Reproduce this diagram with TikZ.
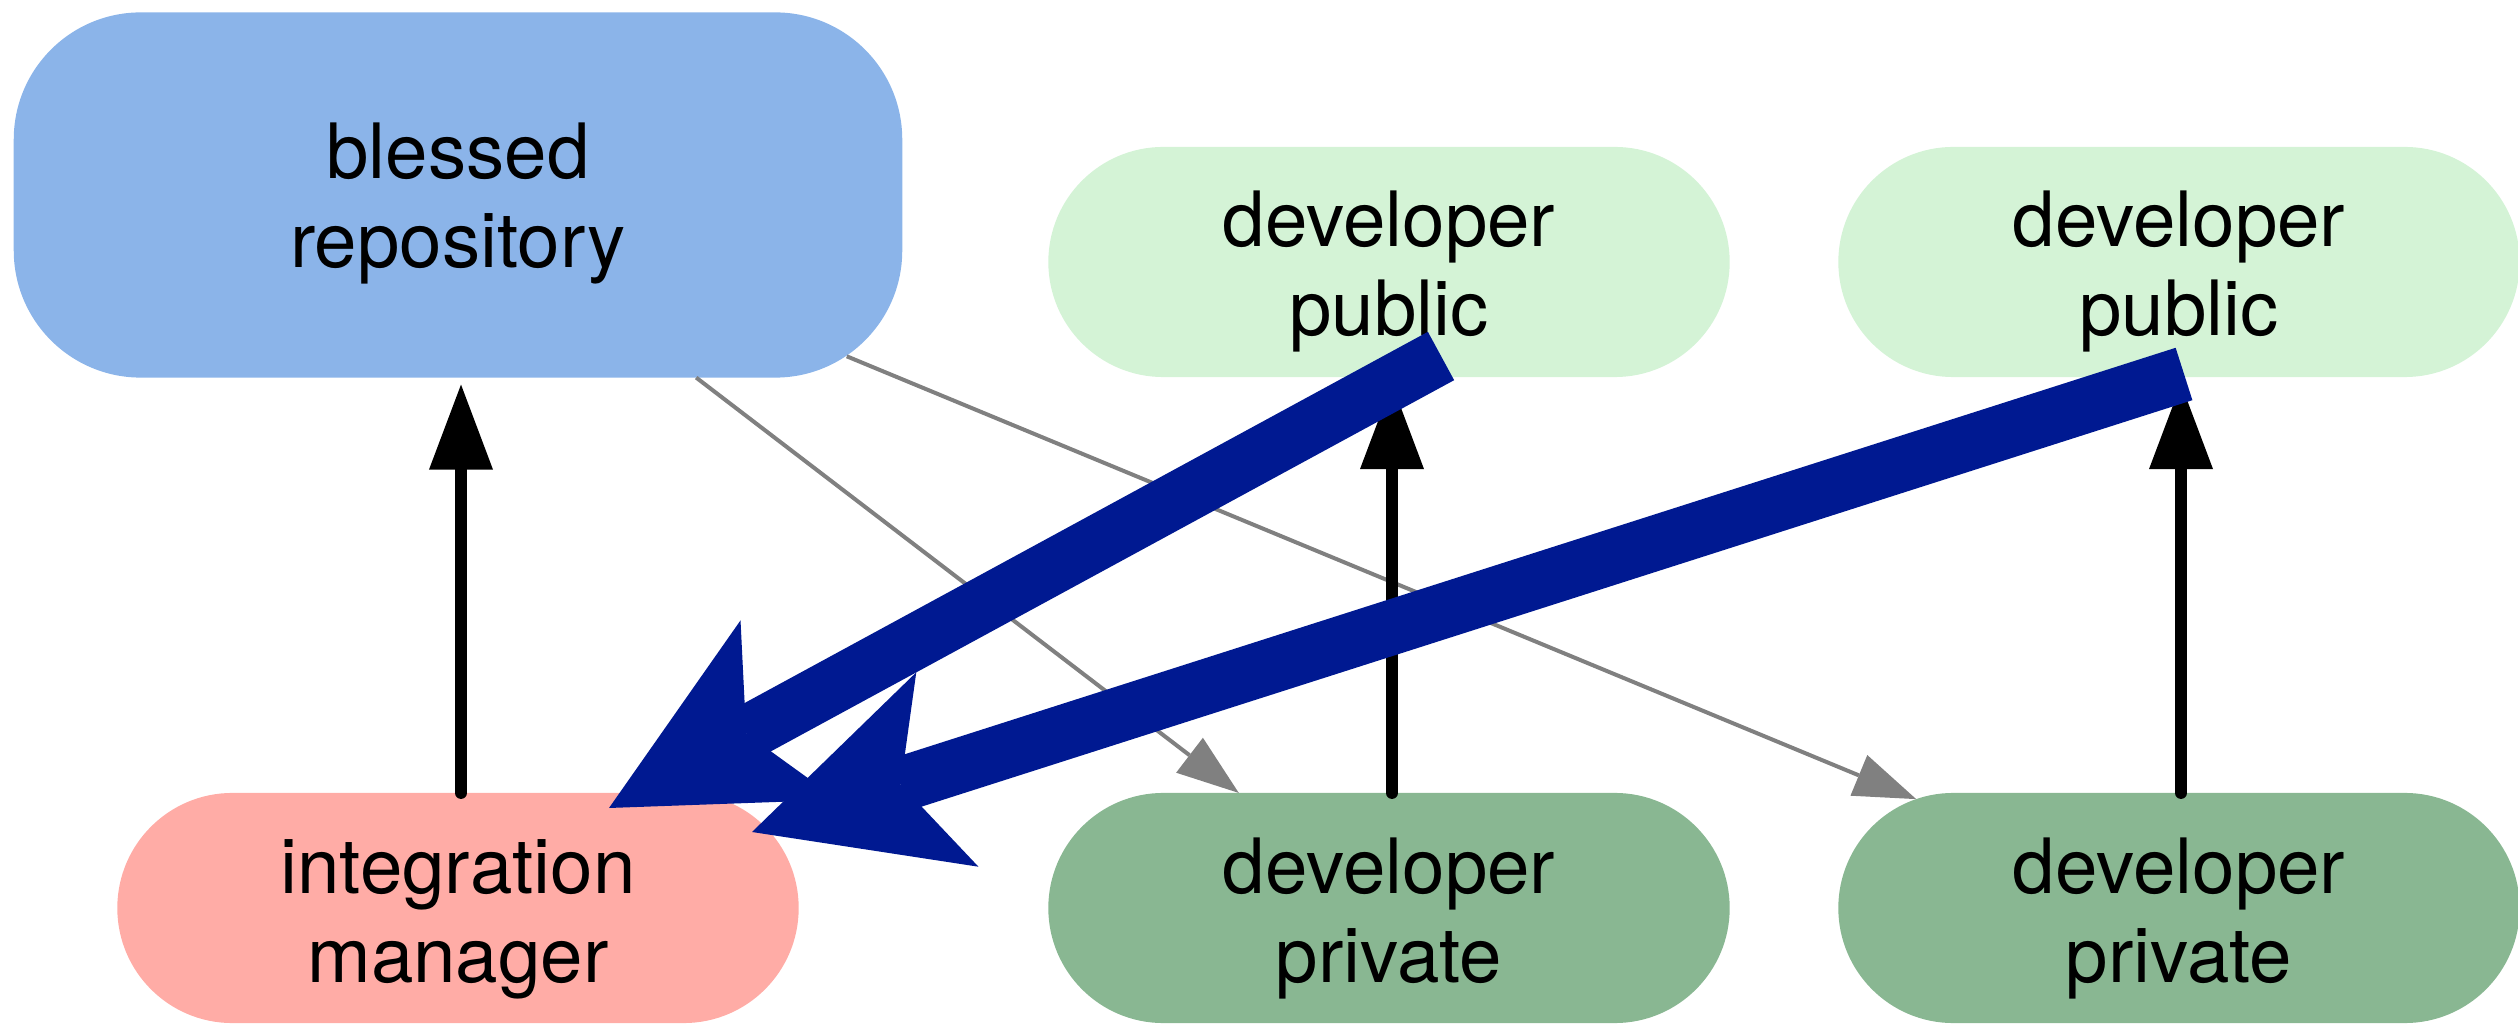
\documentclass[tikz,border=0pt]{standalone}
\usepackage{fontspec}
\setmainfont{TeX Gyre Heros}
\usetikzlibrary{shapes.misc,arrows.meta,calc}
\definecolor{blessc}{HTML}{8BB4E9}
\definecolor{pubc}{HTML}{D4F3D6}
\definecolor{privc}{HTML}{89B792}
\definecolor{mgrc}{HTML}{FFACA6}
\definecolor{pullc}{HTML}{001991}
\definecolor{grayc}{HTML}{808080}
\begin{document}
\begin{tikzpicture}[x=0.01cm,y=-0.01cm,
  stad/.style={rounded rectangle, minimum width=6.81cm, minimum height=2.30cm, inner sep=0pt, outer sep=0pt, draw=none},
  blessbox/.style={rectangle, rounded corners=1.27cm, minimum width=8.88cm, minimum height=3.65cm, inner sep=0pt, outer sep=0pt, draw=none, fill=blessc},
  txt/.style={anchor=base, align=center, inner sep=0pt, outer sep=0pt, font=\fontsize{21.7pt}{25.1pt}\selectfont},
  blk/.style={draw=black, line width=0.12cm, line cap=round, -{Triangle[length=0.85cm, width=0.64cm, line width=0pt]}, shorten >=0.07cm},
  gry/.style={draw=grayc, line width=0.04cm, -{Triangle[length=0.62cm, width=0.44cm, line width=0pt]}},
  blu/.style={draw=pullc, line width=0.55cm, -{Stealth[length=2.05cm, width=2.04cm, inset=0.49cm, line width=0pt]}}
]
\useasboundingbox (0,0) rectangle (2518,1025);
% nodes
\node[blessbox] (bl) at (458,195) {};
\node[stad, fill=pubc] (dp1) at (1389,262) {};
\node[stad, fill=pubc] (dp2) at (2179,262) {};
\node[stad, fill=mgrc] (im) at (458,908) {};
\node[stad, fill=privc] (dv1) at (1389,908) {};
\node[stad, fill=privc] (dv2) at (2179,908) {};
% texts (base anchor = baseline of the last line)
\node[txt] (blt) at ([yshift=-0.72cm]bl.center) {blessed\\repository};
\node[txt] (dp1t) at ([yshift=-0.73cm]dp1.center) {developer\\public};
\node[txt] (dp2t) at ([yshift=-0.73cm]dp2.center) {developer\\public};
\node[txt] (imt) at ([yshift=-0.74cm]im.center) {integration\\manager};
\node[txt] (dv1t) at ([yshift=-0.74cm]dv1.center) {developer\\private};
\node[txt] (dv2t) at ([yshift=-0.74cm]dv2.center) {developer\\private};
% gray pull lines
\draw[gry] (bl) -- (dv1);
\draw[gry, shorten <=-0.556cm] (bl) -- (dv2);
% black push arrows
\draw[blk] ([xshift=0.03cm]im.north) -- ([xshift=0.03cm]bl.south);
\draw[blk] ([xshift=0.03cm]dv1.north) -- ([xshift=0.03cm]dp1.south);
\draw[blk] ([xshift=0.02cm]dv2.north) -- ([xshift=0.02cm]dp2.south);
% blue pull arrows
\coordinate (t1) at ($(dp1.center)+(52,94)$);
\coordinate (h1) at ($(im.center)+(151,-100)$);
\coordinate (t2) at ($(dp2.center)+(5,112)$);
\coordinate (h2) at ($(im.center)+(294,-76)$);
\draw[blu] (t1) -- (h1);
\draw[blu] (t2) -- (h2);
\end{tikzpicture}
\end{document}
